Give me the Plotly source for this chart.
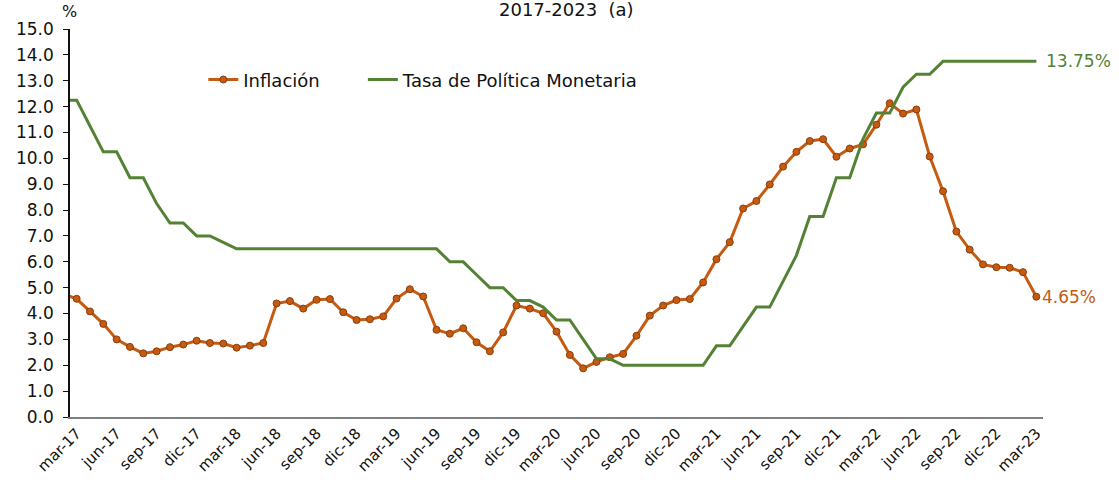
import plotly.graph_objects as go

# monthly, feb-17 .. mar-23 (feb-17 sits just outside the visible range)
months = (
    ["feb-17"]
    + [f"{m}-{y}" for y in range(17, 23) for m in
       (["mar", "abr", "may", "jun", "jul", "ago", "sep", "oct", "nov", "dic"] if y == 17 else
        ["ene", "feb", "mar", "abr", "may", "jun", "jul", "ago", "sep", "oct", "nov", "dic"])]
    + ["ene-23", "feb-23", "mar-23"]
)

inflacion = [
    4.76, 4.57, 4.08, 3.60, 3.00, 2.71, 2.46, 2.54, 2.70, 2.80, 2.95,
    2.86, 2.84, 2.68, 2.76, 2.86, 4.39, 4.48, 4.19, 4.53, 4.56, 4.05, 3.75,
    3.78, 3.89, 4.58, 4.94, 4.66, 3.37, 3.22, 3.43, 2.89, 2.54, 3.27, 4.31,
    4.19, 4.01, 3.30, 2.40, 1.88, 2.13, 2.31, 2.44, 3.14, 3.92, 4.31, 4.52,
    4.56, 5.20, 6.10, 6.76, 8.06, 8.35, 8.99, 9.68, 10.25, 10.67, 10.74, 10.06,
    10.38, 10.54, 11.30, 12.13, 11.73, 11.89, 10.07, 8.73, 7.17, 6.47, 5.90, 5.79,
    5.77, 5.60, 4.65,
]

tpm = [
    12.25, 12.25, 11.25, 10.25, 10.25, 9.25, 9.25, 8.25, 7.50, 7.50, 7.00,
    7.00, 6.75, 6.50, 6.50, 6.50, 6.50, 6.50, 6.50, 6.50, 6.50, 6.50, 6.50,
    6.50, 6.50, 6.50, 6.50, 6.50, 6.50, 6.00, 6.00, 5.50, 5.00, 5.00, 4.50,
    4.50, 4.25, 3.75, 3.75, 3.00, 2.25, 2.25, 2.00, 2.00, 2.00, 2.00, 2.00,
    2.00, 2.00, 2.75, 2.75, 3.50, 4.25, 4.25, 5.25, 6.25, 7.75, 7.75, 9.25,
    9.25, 10.75, 11.75, 11.75, 12.75, 13.25, 13.25, 13.75, 13.75, 13.75, 13.75, 13.75,
    13.75, 13.75, 13.75,
]

tick_labels = months[1::3]
y_ticks = [i * 1.0 for i in range(16)]

ORANGE = "#C55A11"
GREEN = "#548235"
FONT = "DejaVu Sans, Verdana, sans-serif"

fig = go.Figure()
fig.add_trace(go.Scatter(
    x=months, y=inflacion, name="Inflación", mode="lines+markers",
    line=dict(color=ORANGE, width=3),
    marker=dict(size=7, color=ORANGE, line=dict(color="#8C3D0A", width=1)),
    legend="legend", showlegend=True,
))
fig.add_trace(go.Scatter(
    x=months, y=tpm, name="Tasa de Política Monetaria", mode="lines",
    line=dict(color=GREEN, width=3),
    legend="legend2", showlegend=True,
))

fig.add_annotation(x=months[-1], y=tpm[-1], text=f"{tpm[-1]:.2f}%", showarrow=False,
                   xanchor="left", xshift=8, font=dict(color=GREEN, size=17, family=FONT))
fig.add_annotation(x=months[-1], y=inflacion[-1], text=f"{inflacion[-1]:.2f}%", showarrow=False,
                   xanchor="left", xshift=4, font=dict(color=ORANGE, size=17, family=FONT))
fig.add_annotation(xref="paper", yref="paper", x=0.51, y=1.05, yanchor="middle",
                   text="2017-2023  (a)", showarrow=False,
                   font=dict(size=18, color="#111", family=FONT))
fig.add_annotation(xref="paper", yref="paper", x=-0.001, y=1.045, yanchor="middle",
                   xanchor="center", text="%", showarrow=False,
                   font=dict(size=16, color="#111", family=FONT))

legend_style = dict(orientation="h", yanchor="middle", xanchor="left", y=0.869,
                    font=dict(size=18), bgcolor="rgba(0,0,0,0)")

fig.update_layout(
    width=1119, height=487,
    paper_bgcolor="white", plot_bgcolor="white",
    font=dict(family=FONT, color="#111", size=17),
    margin=dict(l=70, r=76, t=29, b=68),
    showlegend=True,
    legend=dict(x=0.137, **legend_style),
    legend2=dict(x=0.301, **legend_style),
    xaxis=dict(
        type="category", range=[0.5, len(months) - 0.5],
        tickmode="array", tickvals=tick_labels, ticktext=tick_labels,
        tickangle=-45, tickfont=dict(size=15), showgrid=False,
        showline=True, linecolor="#7f7f7f", linewidth=1.5, ticks="",
    ),
    yaxis=dict(
        range=[0, 15], tickmode="array", tickvals=y_ticks, tickformat=".1f",
        showgrid=False, zeroline=False, showline=True, linecolor="#111", linewidth=1.5,
        ticks="outside", ticklen=5, tickcolor="#111", tickfont=dict(size=17),
        ticklabelstandoff=6,
    ),
)

# drop the browser's default body margin so the figure fills the window exactly
fig.write_html("out.html", config={"displayModeBar": False},
               post_script="document.body.style.margin='0px';")
